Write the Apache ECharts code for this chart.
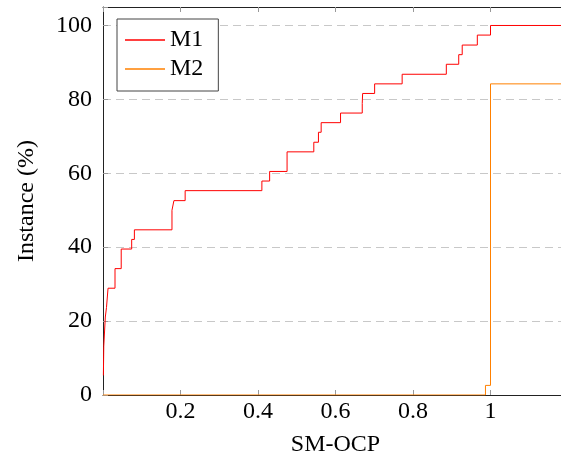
<!DOCTYPE html>
<html>
<head>
  <meta charset="utf-8" />
  <title>SM-OCP</title>
  <script src="https://cdn.jsdelivr.net/npm/echarts@6/dist/echarts.min.js"></script>
</head>
<style>
  html, body { margin: 0; padding: 0; background: #fff; }
  #main { width: 561px; height: 461px; }
</style>
<body>
  <div id="main"></div>
  <script>
    // step points: x where the curve jumps, y = value after the jump
    var m1X = [0.001, 0.002, 0.006, 0.009, 0.013, 0.031, 0.047, 0.074, 0.081, 0.178, 0.183, 0.212,
      0.410, 0.430, 0.475, 0.544, 0.556, 0.563, 0.613, 0.669, 0.670, 0.701, 0.772, 0.886, 0.918,
      0.927, 0.966, 1.0, 1.2];
    var m1Y = [5.3, 13.2, 21.1, 23.7, 28.9, 34.2, 39.5, 42.1, 44.7, 50.0, 52.6, 55.3,
      57.9, 60.5, 65.8, 68.4, 71.1, 73.7, 76.3, 78.9, 81.6, 84.2, 86.8, 89.5, 92.1,
      94.7, 97.4, 100, 100];
    var m2X = [0, 0.987, 1.0, 1.2];
    var m2Y = [0, 2.6, 84.2, 84.2];
    var xTicks = [0.2, 0.4, 0.6, 0.8, 1];
    var yTicks = [0, 20, 40, 60, 80, 100];

    function pairs(xs, ys) {
      return xs.map(function (x, i) { return [x, ys[i]]; });
    }

    var font = 'Liberation Serif';
    var chart = echarts.init(document.getElementById('main'));

    var tickStyle = { show: true, inside: true, length: 5, lineStyle: { color: '#999' } };

    chart.setOption({
      animation: false,
      grid: { left: 103, right: -7, top: 7, bottom: 66, outerBoundsMode: 'none', containLabel: false },
      legend: {
        show: true,
        left: 117, top: 19,
        orient: 'vertical',
        backgroundColor: '#fff',
        borderColor: '#444', borderWidth: 1,
        padding: [9, 15, 10, 8],
        icon: 'rect',
        itemWidth: 40, itemHeight: 1.5, itemGap: 5,
        textStyle: { fontFamily: font, fontSize: 24, color: '#000' },
        data: ['M1', 'M2']
      },
      xAxis: [{
        type: 'value', min: 0, max: 1.2, interval: 0.2,
        name: 'SM-OCP', nameLocation: 'middle', nameGap: 38,
        nameTextStyle: { fontFamily: font, fontSize: 24, color: '#000' },
        axisLine: { lineStyle: { color: '#222', width: 1 } },
        axisTick: tickStyle,
        splitLine: { show: false },
        axisLabel: {
          fontFamily: font, fontSize: 24, color: '#000', margin: 5,
          formatter: function (v) {
            var r = Math.round(v * 10) / 10;
            return xTicks.indexOf(r) >= 0 ? String(r) : '';
          }
        }
      }, {
        type: 'value', min: 0, max: 1.2, interval: 0.2, position: 'top',
        axisLine: { show: true, lineStyle: { color: '#222', width: 1 } },
        axisTick: tickStyle,
        axisLabel: { show: false },
        splitLine: { show: false }
      }],
      yAxis: {
        type: 'value', min: 0, max: 105, interval: 20,
        name: 'Instance (%)', nameLocation: 'middle', nameGap: 64,
        nameTextStyle: { fontFamily: font, fontSize: 24, color: '#000' },
        axisLine: { show: true, lineStyle: { color: '#222', width: 1 } },
        axisTick: tickStyle,
        axisLabel: {
          fontFamily: font, fontSize: 24, color: '#000', margin: 11,
          formatter: function (v) { return yTicks.indexOf(v) >= 0 ? String(v) : ''; }
        },
        splitLine: {
          show: true, showMinLine: false, showMaxLine: false,
          lineStyle: { color: '#c8c8c8', type: [8, 5], width: 1 }
        }
      },
      series: [{
        name: 'M1', type: 'line', step: 'end', symbol: 'none', showSymbol: false,
        lineStyle: { color: '#ff0000', width: 1 }, itemStyle: { color: '#ff0000' },
        data: pairs(m1X, m1Y)
      }, {
        name: 'M2', type: 'line', step: 'end', symbol: 'none', showSymbol: false,
        lineStyle: { color: '#ff8000', width: 1 }, itemStyle: { color: '#ff8000' },
        data: pairs(m2X, m2Y)
      }]
    });
  </script>
</body>
</html>
